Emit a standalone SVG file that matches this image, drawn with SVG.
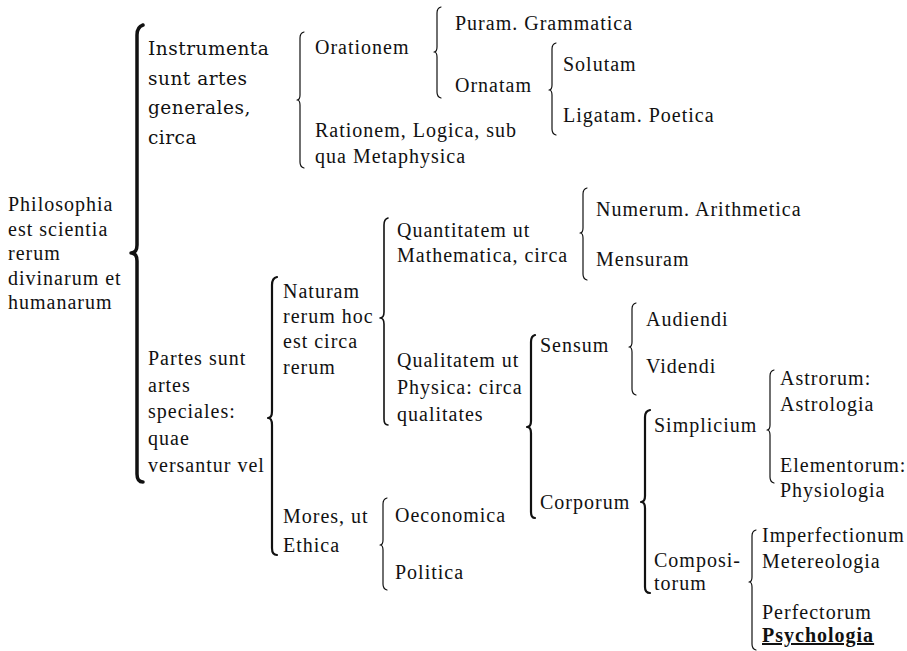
<svg xmlns="http://www.w3.org/2000/svg" width="907" height="651" viewBox="0 0 907 651">
<style>
.t{font-family:"Liberation Serif","Times New Roman",serif;font-size:20px;letter-spacing:1px;fill:#111}
.p{font-family:"DejaVu Serif","Liberation Serif",serif;font-size:18.5px;letter-spacing:0.5px;fill:#111}
.b{fill:none;stroke:#111;stroke-linecap:round;stroke-linejoin:round}
.b1{stroke-width:3.5}
.b2{stroke-width:2.2}
.b3{stroke-width:1.6}
.b4{stroke-width:1.2}
</style>
<rect width="907" height="651" fill="#fff"/>
<g id="connectors">
<path id="br-philosophia" class="b b1" d="M143,25 Q137,27 137,35 L137,245 Q137,253 131,253 Q137,253 137,261 L137,474 Q137,482 143,482"/>
<path id="br-instrumenta" class="b b4" d="M304,32 Q300,33 300,38 L300,95 Q300,100 297,100 Q300,100 300,105 L300,162 Q300,167 304,168"/>
<path id="br-orationem" class="b b4" d="M441,7 Q437,8 437,13 L437,47 Q437,52 434,52 Q437,52 437,57 L437,92 Q437,97 441,98"/>
<path id="br-ornatam" class="b b4" d="M556,43 Q552,44 552,49 L552,85 Q552,90 549,90 Q552,90 552,95 L552,129 Q552,134 556,135"/>
<path id="br-partes" class="b b2" d="M277,277 Q272,278 272,285 L272,411 Q272,418 268,418 Q272,418 272,425 L272,548 Q272,555 277,555"/>
<path id="br-naturam" class="b b3" d="M388,218 Q384,219 384,225 L384,312 Q384,318 380,318 Q384,318 384,324 L384,419 Q384,425 388,425"/>
<path id="br-quantitatem" class="b b4" d="M587,188 Q583,189 583,194 L583,228 Q583,233 580,233 Q583,233 583,238 L583,274 Q583,279 587,280"/>
<path id="br-qualitatem" class="b b2" d="M535,335 Q531,336 531,342 L531,421 Q531,427 527,427 Q531,427 531,433 L531,512 Q531,518 535,518"/>
<path id="br-sensum" class="b b4" d="M636,303 Q632,304 632,309 L632,342 Q632,347 629,347 Q632,347 632,352 L632,389 Q632,394 636,395"/>
<path id="br-corporum" class="b b2" d="M650,410 Q645,411 645,417 L645,496 Q645,502 641,502 Q645,502 645,508 L645,587 Q645,593 650,593"/>
<path id="br-simplicium" class="b b4" d="M774,370 Q770,371 770,376 L770,425 Q770,430 767,430 Q770,430 770,435 L770,477 Q770,482 774,483"/>
<path id="br-compositorum" class="b b4" d="M756,530 Q752,531 752,536 L752,577 Q752,582 749,582 Q752,582 752,587 L752,644 Q752,649 756,650"/>
<path id="br-mores" class="b b4" d="M387,498 Q383,499 383,504 L383,540 Q383,545 380,545 Q383,545 383,550 L383,584 Q383,589 387,590"/>
</g>
<g id="n-philosophia"><text class="t"><tspan x="8" y="211">Philosophia</tspan><tspan x="8" y="235.5">est scientia</tspan><tspan x="8" y="260">rerum</tspan><tspan x="8" y="284.5">divinarum et</tspan><tspan x="8" y="309">humanarum</tspan></text></g>
<g id="n-instrumenta"><text class="p"><tspan x="148" y="55">Instrumenta</tspan><tspan x="148" y="84.5">sunt artes</tspan><tspan x="148" y="114">generales,</tspan><tspan x="148" y="143.5">circa</tspan></text></g>
<g id="n-partes"><text class="t"><tspan x="148" y="365">Partes sunt</tspan><tspan x="148" y="392">artes</tspan><tspan x="148" y="418">speciales:</tspan><tspan x="148" y="445">quae</tspan><tspan x="148" y="472">versantur vel</tspan></text></g>
<g id="n-orationem"><text class="t" x="315" y="54">Orationem</text></g>
<g id="n-rationem"><text class="t"><tspan x="315" y="137">Rationem, Logica, sub</tspan><tspan x="315" y="163">qua Metaphysica</tspan></text></g>
<g id="n-puram"><text class="t" x="455" y="30">Puram. Grammatica</text></g>
<g id="n-ornatam"><text class="t" x="455" y="92">Ornatam</text></g>
<g id="n-solutam"><text class="t" x="563" y="71">Solutam</text></g>
<g id="n-ligatam"><text class="t" x="563" y="122">Ligatam. Poetica</text></g>
<g id="n-naturam"><text class="t"><tspan x="283" y="298">Naturam</tspan><tspan x="283" y="323">rerum hoc</tspan><tspan x="283" y="348">est circa</tspan><tspan x="283" y="374">rerum</tspan></text></g>
<g id="n-mores"><text class="t"><tspan x="283" y="523">Mores, ut</tspan><tspan x="283" y="552">Ethica</tspan></text></g>
<g id="n-quantitatem"><text class="t"><tspan x="397" y="237">Quantitatem ut</tspan><tspan x="397" y="262">Mathematica, circa</tspan></text></g>
<g id="n-qualitatem"><text class="t"><tspan x="397" y="367">Qualitatem ut</tspan><tspan x="397" y="394">Physica: circa</tspan><tspan x="397" y="421">qualitates</tspan></text></g>
<g id="n-numerum"><text class="t" x="596" y="216">Numerum. Arithmetica</text></g>
<g id="n-mensuram"><text class="t" x="596" y="266">Mensuram</text></g>
<g id="n-oeconomica"><text class="t" x="395" y="522">Oeconomica</text></g>
<g id="n-politica"><text class="t" x="395" y="579">Politica</text></g>
<g id="n-sensum"><text class="t" x="540" y="352">Sensum</text></g>
<g id="n-corporum"><text class="t" x="540" y="509">Corporum</text></g>
<g id="n-audiendi"><text class="t" x="646" y="326">Audiendi</text></g>
<g id="n-videndi"><text class="t" x="646" y="373">Videndi</text></g>
<g id="n-simplicium"><text class="t" x="654" y="432">Simplicium</text></g>
<g id="n-compositorum"><text class="t"><tspan x="654" y="567">Composi-</tspan><tspan x="654" y="590">torum</tspan></text></g>
<g id="n-astrorum"><text class="t"><tspan x="780" y="385">Astrorum:</tspan><tspan x="780" y="411">Astrologia</tspan></text></g>
<g id="n-elementorum"><text class="t"><tspan x="780" y="472">Elementorum:</tspan><tspan x="780" y="497">Physiologia</tspan></text></g>
<g id="n-imperfectionum"><text class="t"><tspan x="762" y="542">Imperfectionum</tspan><tspan x="762" y="568">Metereologia</tspan></text></g>
<g id="n-perfectorum"><text class="t"><tspan x="762" y="619">Perfectorum</tspan><tspan x="762" y="642" font-weight="bold" text-decoration="underline">Psychologia</tspan></text></g>
</svg>
